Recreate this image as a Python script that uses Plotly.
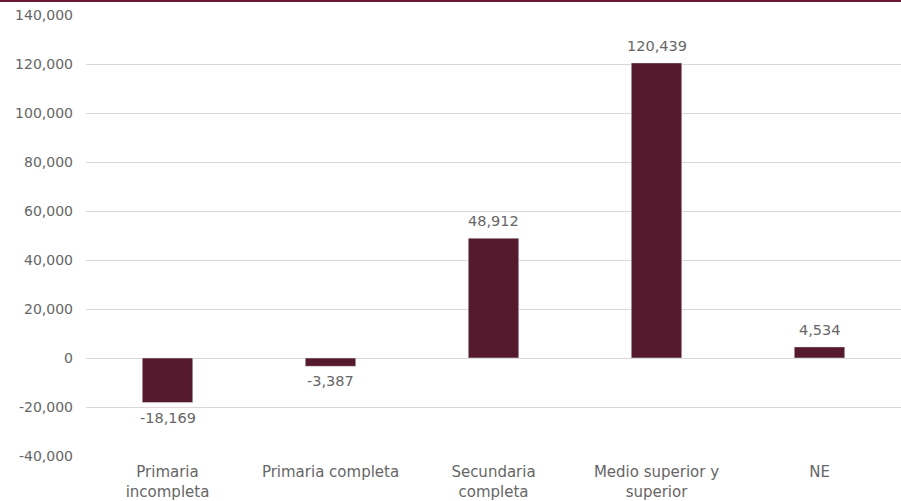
import plotly.graph_objects as go

categories = ["Primaria<br>incompleta", "Primaria completa", "Secundaria<br>completa",
              "Medio superior y<br>superior", "NE"]
values = [-18169, -3387, 48912, 120439, 4534]
tick_vals = [-40000, -20000, 0, 20000, 40000, 60000, 80000, 100000, 120000, 140000]
tick_text = [f"{v:,}" for v in tick_vals]

bar_color = "#561A2F"
text_color = "#666666"
font_family = "DejaVu Sans, sans-serif"

fig = go.Figure(go.Bar(
    x=categories, y=values,
    marker_color=bar_color,
    width=0.31,
    cliponaxis=False,
))

for cat, v in zip(categories, values):
    fig.add_annotation(
        x=cat, y=v, text=f"{v:,}", showarrow=False,
        yanchor="bottom" if v >= 0 else "top",
        yshift=7 if v >= 0 else -5,
        font=dict(size=14.5, color=text_color, family=font_family),
    )

fig.update_layout(
    width=901, height=501,
    margin=dict(l=86, r=0, t=15, b=45),
    plot_bgcolor="white", paper_bgcolor="white",
    showlegend=False,
    font=dict(family=font_family, color=text_color, size=14),
    xaxis=dict(showline=False, showgrid=False, ticks="", ticklabelstandoff=5,
               tickfont=dict(size=15, color=text_color)),
    yaxis=dict(range=[-40000, 140000], tickvals=tick_vals, ticktext=tick_text,
               showgrid=True, gridcolor="#D9D9D9", gridwidth=1, zeroline=False,
               tickfont=dict(size=14, color=text_color), ticks="", ticklabelstandoff=12),
    shapes=[dict(type="line", xref="paper", yref="paper", x0=-0.2, x1=1.1, y0=1.0317, y1=1.0317,
                 line=dict(color="#6B1A33", width=2))],
)

fig.write_html("out.html", config={"displayModeBar": False},
               post_script="document.body.style.margin='0';")
